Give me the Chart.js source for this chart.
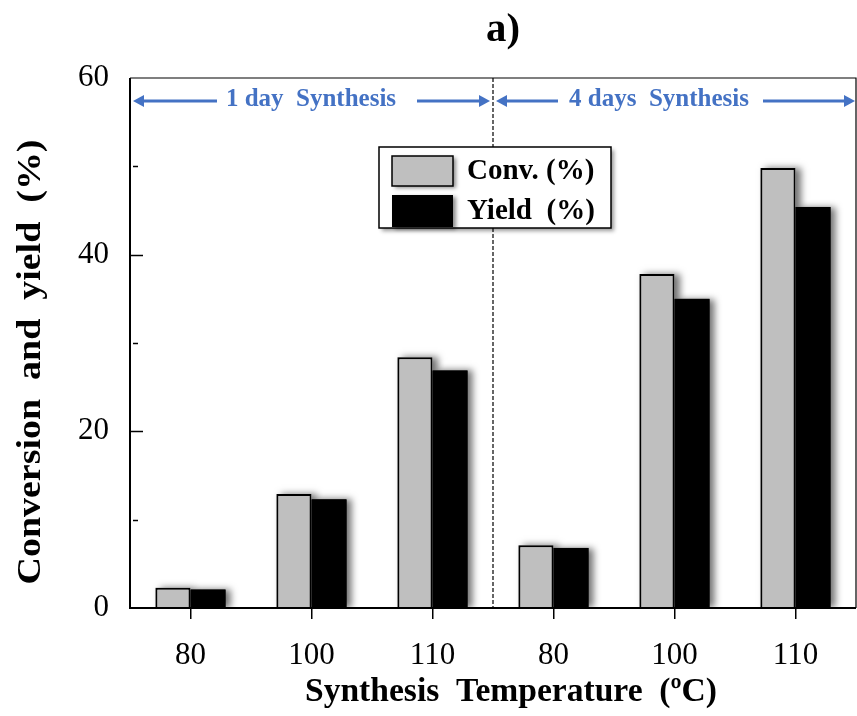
<!DOCTYPE html>
<html><head><meta charset="utf-8">
<script src="https://cdn.jsdelivr.net/npm/chart.js@4.4.1/dist/chart.umd.min.js"></script>
<style>html,body{margin:0;padding:0;background:#fff;}#wrap{width:857px;height:716px;}</style>
</head><body><div id="wrap"><canvas id="c" width="857" height="716"></canvas></div>
<script>
// ---- data ----
const categories = ['80', '100', '110', '80', '100', '110'];
const groupLabels = ['1 day  Synthesis', '4 days  Synthesis'];
const conversion = [2.3, 12.9, 28.4, 7.1, 37.8, 49.8];
const yieldVals = [2.1, 12.3, 26.9, 6.8, 35.0, 45.4];
const seriesNames = ['Conv. (%)', 'Yield  (%)'];
const yMajorTicks = [20, 40];
const yMinorTicks = [10, 30, 50];
const chartTitle = 'a)';
const xTitle = 'Synthesis  Temperature  (\u00BAC)';
const yTitle = 'Conversion  and  yield  (%)';

const SERIF = '"Liberation Serif", "Times New Roman", serif';
const BLUE = '#4472C4';
const GRAY = '#BFBFBF';

function drawText(ctx, text, cx, cy, font, targetWidth, rotate) {
  ctx.save();
  ctx.font = font;
  ctx.fillStyle = '#000';
  ctx.textAlign = 'center';
  ctx.textBaseline = 'middle';
  ctx.translate(cx, cy);
  if (rotate) ctx.rotate(rotate);
  if (targetWidth) {
    const w = ctx.measureText(text).width;
    ctx.scale(targetWidth / w, 1);
  }
  ctx.fillText(text, 0, 0);
  ctx.restore();
}

function arrow(ctx, x1, x2, y, headStart, headEnd) {
  const hl = 11, hw = 6;
  ctx.save();
  ctx.strokeStyle = BLUE; ctx.fillStyle = BLUE; ctx.lineWidth = 3;
  ctx.beginPath();
  ctx.moveTo(headStart ? x1 + hl - 1 : x1, y);
  ctx.lineTo(headEnd ? x2 - hl + 1 : x2, y);
  ctx.stroke();
  if (headStart) {
    ctx.beginPath(); ctx.moveTo(x1, y); ctx.lineTo(x1 + hl, y - hw); ctx.lineTo(x1 + hl, y + hw); ctx.closePath(); ctx.fill();
  }
  if (headEnd) {
    ctx.beginPath(); ctx.moveTo(x2, y); ctx.lineTo(x2 - hl, y - hw); ctx.lineTo(x2 - hl, y + hw); ctx.closePath(); ctx.fill();
  }
  ctx.restore();
}

// soft drop shadow behind every bar, using the geometry computed by Chart.js
const shadowPlugin = {
  id: 'barShadow',
  beforeDatasetsDraw(chart) {
    const ctx = chart.ctx;
    const a = chart.chartArea;
    ctx.save();
    ctx.beginPath(); ctx.rect(a.left, a.top, a.right - a.left + 10, a.bottom - a.top); ctx.clip();
    ctx.shadowColor = 'rgba(0,0,0,0.55)';
    ctx.shadowBlur = 7;
    ctx.shadowOffsetX = 5;
    ctx.shadowOffsetY = 0;
    chart.data.datasets.forEach((ds, i) => {
      ctx.fillStyle = ds.backgroundColor;
      chart.getDatasetMeta(i).data.forEach(el => {
        const p = el.getProps(['x', 'y', 'base', 'width'], true);
        ctx.fillRect(p.x - p.width / 2, p.y, p.width, p.base - p.y);
      });
    });
    ctx.restore();
  }
};

const decorPlugin = {
  id: 'decor',
  afterDraw(chart) {
    const ctx = chart.ctx;
    const a = chart.chartArea;
    const xs = chart.scales.x, ys = chart.scales.y;

    // plot frame
    ctx.save();
    ctx.strokeStyle = '#000';
    ctx.lineWidth = 1.2;
    ctx.beginPath();
    ctx.moveTo(a.left, a.top); ctx.lineTo(a.right, a.top); ctx.lineTo(a.right, a.bottom);
    ctx.stroke();
    ctx.lineWidth = 2;
    ctx.beginPath();
    ctx.moveTo(a.left, a.top); ctx.lineTo(a.left, a.bottom); ctx.lineTo(a.right, a.bottom);
    ctx.stroke();
    // inward y ticks
    ctx.lineWidth = 1.5;
    yMajorTicks.forEach(v => {
      const y = Math.round(ys.getPixelForValue(v)) + 0.5;
      ctx.beginPath(); ctx.moveTo(a.left, y); ctx.lineTo(a.left + 13, y); ctx.stroke();
    });
    yMinorTicks.forEach(v => {
      const y = Math.round(ys.getPixelForValue(v)) + 0.5;
      ctx.beginPath(); ctx.moveTo(a.left + 3, y); ctx.lineTo(a.left + 8, y); ctx.stroke();
    });
    // dashed divider between the two groups
    const div = (xs.getPixelForValue(2) + xs.getPixelForValue(3)) / 2;
    ctx.lineWidth = 1.2;
    ctx.setLineDash([4, 2]);
    ctx.beginPath(); ctx.moveTo(div, a.top); ctx.lineTo(div, a.bottom); ctx.stroke();
    ctx.setLineDash([]);
    ctx.restore();

    // group annotations with arrows
    const ay = a.top + 23;
    arrow(ctx, a.left + 3, a.left + 87, ay, true, false);
    arrow(ctx, a.left + 287, div - 3, ay, false, true);
    arrow(ctx, div + 3, div + 65, ay, true, false);
    arrow(ctx, div + 270, a.right - 1, ay, false, true);
    ctx.save();
    ctx.font = 'bold 25px ' + SERIF;
    ctx.fillStyle = BLUE;
    ctx.textAlign = 'center';
    ctx.textBaseline = 'middle';
    ctx.fillText(groupLabels[0], a.left + 181, ay - 1);
    ctx.fillText(groupLabels[1], div + 166, ay - 1);
    ctx.restore();

    // legend
    ctx.save();
    const lx = 379, ly = 147, lw = 232, lh = 81;
    ctx.shadowColor = 'rgba(0,0,0,0.4)'; ctx.shadowBlur = 4; ctx.shadowOffsetX = 3; ctx.shadowOffsetY = 3;
    ctx.fillStyle = '#fff';
    ctx.fillRect(lx, ly, lw, lh);
    ctx.shadowColor = 'rgba(0,0,0,0)';
    ctx.strokeStyle = '#000'; ctx.lineWidth = 1.5;
    ctx.strokeRect(lx, ly, lw, lh);
    ctx.shadowColor = 'rgba(0,0,0,0.45)'; ctx.shadowBlur = 4; ctx.shadowOffsetX = 3; ctx.shadowOffsetY = 2;
    ctx.fillStyle = GRAY;
    ctx.fillRect(392, 156, 61, 30);
    ctx.fillStyle = '#000';
    ctx.fillRect(392, 195, 61, 32);
    ctx.shadowColor = 'rgba(0,0,0,0)';
    ctx.lineWidth = 1.5;
    ctx.strokeRect(392, 156, 61, 30);
    ctx.font = 'bold 29px ' + SERIF;
    ctx.fillStyle = '#000';
    ctx.textAlign = 'left';
    ctx.textBaseline = 'middle';
    ctx.fillText(seriesNames[0], 467, 172);
    ctx.fillText(seriesNames[1], 467, 212);
    ctx.restore();

    // titles
    drawText(ctx, chartTitle, 503, 31, 'bold 40px ' + SERIF, 34, 0);
    drawText(ctx, xTitle, 511, 692, 'bold 33px ' + SERIF, 412, 0);
    drawText(ctx, yTitle, 31, 362, 'bold 34px ' + SERIF, 445, -Math.PI / 2);
  }
};

new Chart(document.getElementById('c'), {
  type: 'bar',
  data: {
    labels: categories,
    datasets: [
      { label: seriesNames[0], data: conversion, backgroundColor: GRAY, borderColor: '#000', borderWidth: 2,
        categoryPercentage: 0.58, barPercentage: 1.0 },
      { label: seriesNames[1], data: yieldVals, backgroundColor: '#000', borderColor: '#000', borderWidth: 2,
        categoryPercentage: 0.58, barPercentage: 1.0 }
    ]
  },
  options: {
    responsive: false,
    animation: false,
    devicePixelRatio: 1,
    layout: { padding: { top: 78, right: 1, left: 0, bottom: 0 } },
    plugins: { legend: { display: false }, tooltip: { enabled: false }, title: { display: false } },
    scales: {
      x: {
        offset: true,
        grid: { display: true, drawOnChartArea: false, drawTicks: true, tickLength: 11, offset: false, color: '#000', lineWidth: 1.5 },
        border: { display: false },
        ticks: { color: '#000', font: { family: SERIF, size: 31 }, padding: 18, maxRotation: 0 },
        afterFit(s) { s.height = 108; }
      },
      y: {
        min: 0, max: 60,
        grid: { display: false },
        border: { display: false },
        ticks: { stepSize: 20, color: '#000', font: { family: SERIF, size: 31 }, padding: 13 },
        afterFit(s) { s.width = 130; }
      }
    }
  },
  plugins: [shadowPlugin, decorPlugin]
});
</script>
</body></html>
